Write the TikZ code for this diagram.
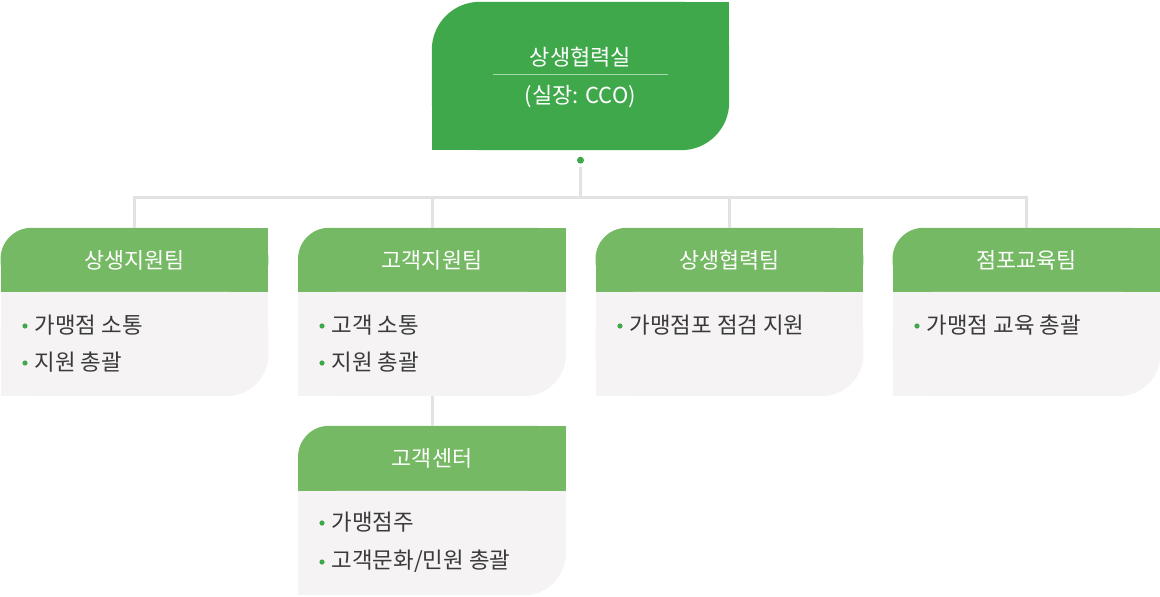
\documentclass[tikz,border=0pt]{standalone}
\usepackage{fontspec}
\setmainfont{Noto Sans CJK KR}
\usetikzlibrary{backgrounds}
\definecolor{topgreen}{HTML}{3FA84A}
\definecolor{hdrgreen}{HTML}{76B964}
\definecolor{bodygray}{HTML}{F5F3F4}
\definecolor{linegray}{HTML}{E2E2E2}
\definecolor{txtgray}{HTML}{3A3A3A}
\definecolor{dotgreen}{HTML}{3FA84A}
\tikzset{
  topbox/.style={minimum width=297pt, minimum height=148pt, inner sep=0pt},
  hdr/.style={minimum width=267.5pt, minimum height=64pt, inner sep=0pt, text=white, font=\fontsize{21.8}{23}\selectfont},
  bodybox/.style={minimum width=267.5pt, minimum height=104pt, inner sep=0pt},
  item/.style={anchor=west, text=txtgray, font=\fontsize{22.4}{24}\selectfont, inner sep=0pt},
  toptext/.style={text=white, inner sep=0pt, font=\fontsize{22}{24}\selectfont},
  conn/.style={draw=linegray, line width=3pt},
  bul/.style={fill=dotgreen},
  topdot/.style={circle, fill=dotgreen, inner sep=0pt, minimum size=7pt},
  hdrshape/.style={fill=hdrgreen},
  bodyshape/.style={fill=bodygray},
}
\newcommand{\hdrshape}[1]{%
  \fill[hdrshape, rounded corners=31pt] (#1.north west) rectangle (#1.south east);
  \fill[hdrshape] (#1.north) rectangle (#1.south east);
  \fill[hdrshape] (#1.west) rectangle (#1.south east);}
\newcommand{\bodyshape}[1]{%
  \fill[bodyshape, rounded corners=42pt] (#1.north west) rectangle (#1.south east);
  \fill[bodyshape] (#1.north west) rectangle (#1.south);
  \fill[bodyshape] (#1.north west) rectangle (#1.east);}
\newcommand{\bulletat}[1]{\fill[bul] ([xshift=-9.5pt,yshift=-1pt]#1.west) circle (2.6pt);}
\begin{document}
\begin{tikzpicture}[x=1pt,y=-1pt]
\useasboundingbox (0,0) rectangle (1160,597);
% top box
\node[topbox] (top) at (580.5,76) {};
\node[toptext] (toptitle) at (580.5,57) {상생협력실};
\node[toptext] (topsub) at (580.5,97) {(실장: CCO)};
\coordinate (divl) at (493,74);
\coordinate (divr) at (668,74);
% headers
\node[hdr] (h1) at (134.5,260) {상생지원팀};
\node[hdr] (h2) at (432,260) {고객지원팀};
\node[hdr] (h3) at (729.5,260) {상생협력팀};
\node[hdr] (h4) at (1026.5,260) {점포교육팀};
\node[hdr, minimum height=65pt] (h5) at (432,458.5) {고객센터};
% bodies
\node[bodybox] (b1) at (134.5,344) {};
\node[bodybox] (b2) at (432,344) {};
\node[bodybox] (b3) at (729.5,344) {};
\node[bodybox] (b4) at (1026.5,344) {};
\node[bodybox] (b5) at (432,543) {};
% items
\node[item] (i11) at (34.5,325) {가맹점 소통};
\node[item] (i12) at (34.5,362) {지원 총괄};
\node[item] (i21) at (331.5,325) {고객 소통};
\node[item] (i22) at (331.5,362) {지원 총괄};
\node[item] (i31) at (629.5,325) {가맹점포 점검 지원};
\node[item] (i41) at (926.5,325) {가맹점 교육 총괄};
\node[item] (i51) at (331.5,522) {가맹점주};
\node[item] (i52) at (331.5,561) {고객문화/민원 총괄};
\foreach \n in {i11,i12,i21,i22,i31,i41,i51,i52}{\bulletat{\n}}
% background shapes
\begin{scope}[on background layer]
  \fill[topgreen, rounded corners=48pt] (top.north west) rectangle (top.south east);
  \fill[topgreen] (top.north) rectangle (top.east);
  \fill[topgreen] (top.west) rectangle (top.south);
  \draw[white, opacity=0.55, line width=0.8pt] (divl) -- (divr);
  \hdrshape{h1}\hdrshape{h2}\hdrshape{h3}\hdrshape{h4}\hdrshape{h5}
  \bodyshape{b1}\bodyshape{b2}\bodyshape{b3}\bodyshape{b4}\bodyshape{b5}
\end{scope}
% connectors
\node[topdot] (dot) at ([yshift=-10pt]top.south) {};
\coordinate (bus) at (580.5,197.5);
\draw[conn] ([yshift=-3.5pt]dot.south) -- (dot |- bus);
\draw[conn] (h1.north) -- (h1.north |- bus) -- (h4.north |- bus) -- (h4.north);
\draw[conn] (h2.north |- bus) -- (h2.north);
\draw[conn] (h3.north |- bus) -- (h3.north);
\draw[conn] (b2.south) -- (h5.north);
\end{tikzpicture}
\end{document}
